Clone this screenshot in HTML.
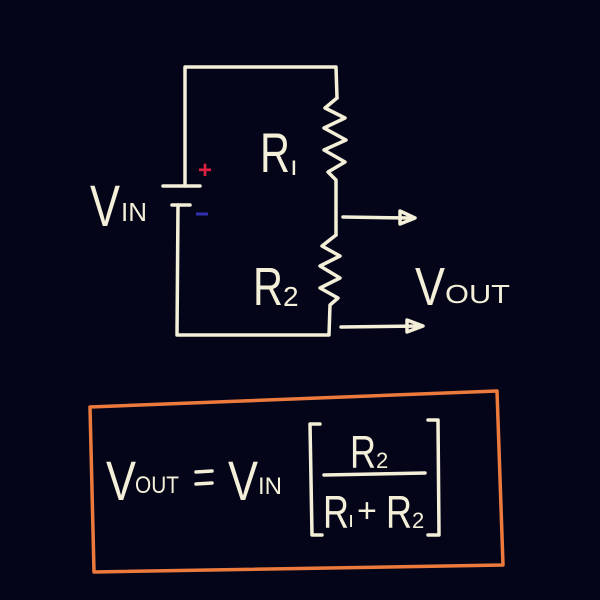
<!DOCTYPE html>
<html><head><style>html,body{margin:0;padding:0;background:#05051a;}svg{display:block}</style></head>
<body>
<svg width="600" height="600" viewBox="0 0 600 600" xmlns="http://www.w3.org/2000/svg">
<rect width="600" height="600" fill="#05051a"/>
<g stroke="#f3efd8" stroke-width="3.5" fill="none" stroke-linecap="round" stroke-linejoin="round">
<path d="M185 186 L185 67 L336 67 L337 98"/>
<path d="M337 98 L325 108 L345 118 L324 128 L346 140 L324 150 L345 162 L328 172 L336 180 L336 235"/>
<path d="M336 235 L322 246 L340 256 L320 266 L340 278 L320 288 L338 298 L330 305 L329 335 L177 335 L178 205"/>
<path d="M163 186 L200 186"/>
<path d="M172 205 L190 205"/>
<path d="M343 217 L410 218"/>
<path d="M400 211 L415 218 L400 224 Z"/>
<path d="M341 327 L420 326"/>
<path d="M407 320 L423 326 L407 332 Z"/>
<!-- brackets & fraction -->
<path d="M320 424 L310 424 L312 535 L322 535"/>
<path d="M428 420 L438 420 L439 535 L428 535"/>
<path d="M324 475 L425 473"/>
<path d="M196 472 L212 471 M196 484 L212 483"/>
</g>
<path d="M90 407 L497 391 L503 565 L94 572 Z" stroke="#ec7a3c" stroke-width="3.5" fill="none" stroke-linejoin="round"/>
<g fill="#f3efd8" font-family="'Liberation Sans', sans-serif">
<text x="90" y="226" font-size="58" textLength="30" lengthAdjust="spacingAndGlyphs">V</text>
<text x="121" y="221" font-size="26">IN</text>
<text x="260" y="172" font-size="56" textLength="30" lengthAdjust="spacingAndGlyphs">R</text>
<text x="290" y="175" font-size="28">ı</text>
<text x="253" y="305" font-size="54" textLength="30" lengthAdjust="spacingAndGlyphs">R</text>
<text x="283" y="306" font-size="28">2</text>
<text x="415" y="305" font-size="54" textLength="30" lengthAdjust="spacingAndGlyphs">V</text>
<text x="445" y="303" font-size="26" textLength="65" lengthAdjust="spacingAndGlyphs">OUT</text>
<text x="106" y="500" font-size="56" textLength="30" lengthAdjust="spacingAndGlyphs">V</text>
<text x="135" y="493" font-size="24" textLength="44" lengthAdjust="spacingAndGlyphs">OUT</text>
<text x="228" y="500" font-size="56" textLength="30" lengthAdjust="spacingAndGlyphs">V</text>
<text x="258" y="494" font-size="24">IN</text>
<text x="350" y="468" font-size="46" textLength="26" lengthAdjust="spacingAndGlyphs">R</text>
<text x="376" y="468" font-size="22">2</text>
<text x="323" y="528" font-size="46" textLength="26" lengthAdjust="spacingAndGlyphs">R</text>
<text x="348" y="527" font-size="22">ı</text>
<text x="357" y="522" font-size="34">+</text>
<text x="386" y="528" font-size="46" textLength="26" lengthAdjust="spacingAndGlyphs">R</text>
<text x="412" y="528" font-size="22">2</text>
</g>
<text x="198" y="178" font-size="24" fill="#e02040" font-family="'Liberation Sans', sans-serif" font-weight="bold">+</text>
<path d="M196 214 L208 214" stroke="#3030b0" stroke-width="3"/>
</svg>
</body></html>
